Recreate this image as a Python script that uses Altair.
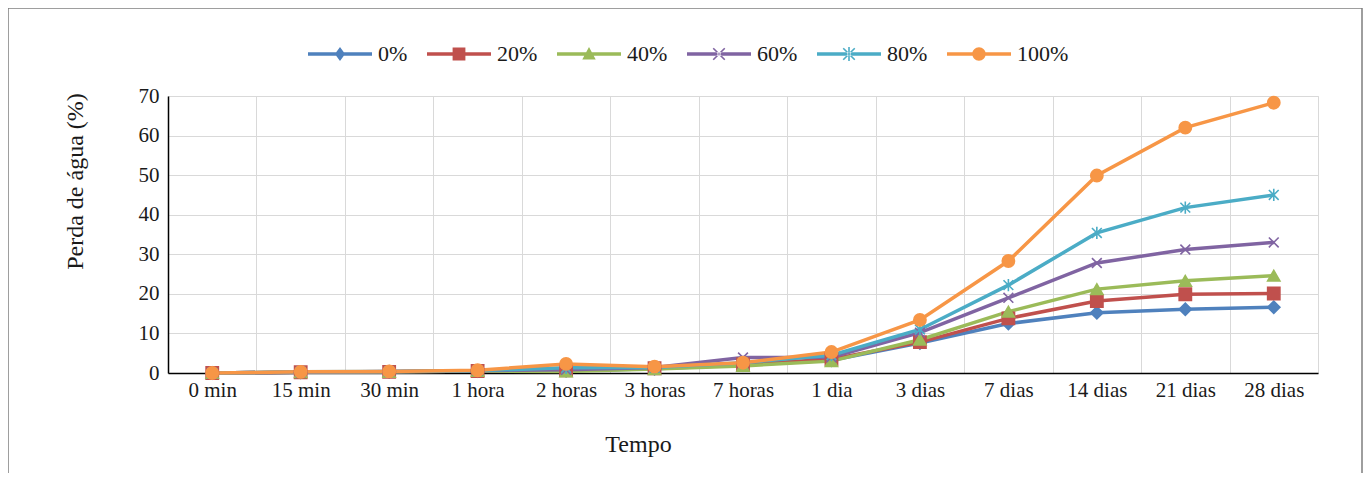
import math
import altair as alt
import pandas as pd

categorias = ["0 min", "15 min", "30 min", "1 hora", "2 horas", "3 horas", "7 horas",
              "1 dia", "3 dias", "7 dias", "14 dias", "21 dias", "28 dias"]
series = ["0%", "20%", "40%", "60%", "80%", "100%"]

v0 = [0, 0.2, 0.3, 0.5, 0.6, 1.1, 2.0, 3.2, 7.6, 12.5, 15.2, 16.1, 16.6]
v20 = [0, 0.2, 0.3, 0.5, 0.7, 1.2, 2.2, 3.5, 7.8, 13.8, 18.2, 19.9, 20.1]
v40 = [0, 0.2, 0.3, 0.5, 0.4, 1.0, 1.8, 3.0, 8.4, 15.5, 21.2, 23.3, 24.6]
v60 = [0, 0.2, 0.4, 0.6, 0.8, 1.4, 3.9, 4.0, 10.2, 19.0, 27.8, 31.2, 33.0]
v80 = [0, 0.3, 0.4, 0.6, 1.3, 1.4, 2.6, 4.5, 11.0, 22.2, 35.4, 41.8, 45.0]
v100 = [0, 0.3, 0.4, 0.7, 2.3, 1.6, 2.6, 5.3, 13.4, 28.3, 49.9, 62.0, 68.3]

cores = ["#4F81BD", "#C0504D", "#9BBB59", "#8064A2", "#4BACC6", "#F79646"]

FONT = "Times New Roman, Liberation Serif, DejaVu Serif, serif"
TXT = "#1a1a1a"

rows = []
for s, vals in zip(series, [v0, v20, v40, v60, v80, v100]):
    for c, v in zip(categorias, vals):
        rows.append({"Tempo": c, "Serie": s, "Perda": v})
df = pd.DataFrame(rows)

# marker shapes in the plot
X_PATH = "M-0.8,-0.8L0.8,0.8M-0.8,0.8L0.8,-0.8"
AST_PATH = "M-0.8,-0.8L0.8,0.8M-0.8,0.8L0.8,-0.8M0,-1L0,1"
marcadores = ["diamond", "square", "triangle-up", X_PATH, AST_PATH, "circle"]


def bar(x1, y1, x2, y2, t):
    # thin filled polygon along a segment (so it can be drawn with fill only)
    dx, dy = x2 - x1, y2 - y1
    n = math.hypot(dx, dy)
    px, py = -dy / n * t, dx / n * t
    pts = [(x1 + px, y1 + py), (x2 + px, y2 + py), (x2 - px, y2 - py), (x1 - px, y1 - py)]
    return "M" + "L".join(f"{a:.3f},{b:.3f}" for a, b in pts) + "Z"


# legend symbols: line segment + marker (unit box [-1,1] = 64 px)
LINE = "M-1,-0.055L1,-0.055L1,0.055L-1,0.055Z"
XM = bar(-0.18, -0.18, 0.18, 0.18, 0.025) + bar(-0.18, 0.18, 0.18, -0.18, 0.025)
leg_paths = [
    LINE + "M0,-0.22L0.16,0L0,0.22L-0.16,0Z",
    LINE + "M-0.2,-0.2L0.2,-0.2L0.2,0.2L-0.2,0.2Z",
    LINE + "M0,-0.22L0.21,0.17L-0.21,0.17Z",
    LINE + XM,
    LINE + XM + bar(0, -0.22, 0, 0.22, 0.025),
    LINE + "M-0.21,0A0.21,0.21 0 1,1 0.21,0A0.21,0.21 0 1,1 -0.21,0Z",
]

W, H = 1150, 277

x_enc = alt.X(
    "Tempo:N", sort=categorias,
    scale=alt.Scale(type="band", paddingInner=0, paddingOuter=0),
    axis=alt.Axis(
        title="Tempo", labelAngle=0, labelFont=FONT, labelFontSize=21, labelColor=TXT,
        labelPadding=6, ticks=False, domainColor="#000000", domainWidth=1.5,
        grid=True, gridColor="#d9d9d9", gridWidth=1, tickBand="extent",
        titleFont=FONT, titleFontSize=24, titleFontWeight="normal", titleColor=TXT,
        titleX=470, titleY=71, titleBaseline="middle", titleAlign="center",
    ),
)
y_enc = alt.Y(
    "Perda:Q",
    scale=alt.Scale(domain=[0, 70], nice=False),
    axis=alt.Axis(
        title="Perda de água (%)", values=[0, 10, 20, 30, 40, 50, 60, 70],
        labelFont=FONT, labelFontSize=21, labelColor=TXT, labelPadding=9,
        ticks=False, domainColor="#000000", domainWidth=1.5,
        grid=True, gridColor="#d9d9d9", gridWidth=1,
        titleFont=FONT, titleFontSize=24, titleFontWeight="normal", titleColor=TXT,
        titleX=-93, titleY=85, titleBaseline="middle", titleAlign="center",
    ),
)

base = alt.Chart(df)

linhas = base.mark_line(strokeWidth=3.5).encode(
    x=x_enc, y=y_enc,
    color=alt.Color("Serie:N", scale=alt.Scale(domain=series, range=cores), legend=None),
    detail="Serie:N",
)

pontos = base.mark_point(filled=True, size=150, strokeWidth=1.6, opacity=1).encode(
    x=x_enc, y=y_enc,
    color=alt.Color("Serie:N", scale=alt.Scale(domain=series, range=cores), legend=None),
    stroke=alt.Stroke("Serie:N", scale=alt.Scale(domain=series, range=cores), legend=None),
    shape=alt.Shape("Serie:N", scale=alt.Scale(domain=series, range=marcadores), legend=None),
)

leg = dict(
    title=None, orient="none", direction="horizontal", legendX=140, legendY=-74,
    symbolSize=4096, symbolStrokeWidth=0, symbolOpacity=1,
    labelFont=FONT, labelFontSize=22, labelColor=TXT,
    labelOffset=6, columnPadding=19, padding=0,
)
legenda = base.transform_filter("false").mark_point(filled=True, size=4096, opacity=1).encode(
    color=alt.Color("Serie:N", scale=alt.Scale(domain=series, range=cores), legend=alt.Legend(**leg)),
    shape=alt.Shape("Serie:N", scale=alt.Scale(domain=series, range=leg_paths), legend=alt.Legend(**leg)),
)

moldura = alt.Chart(pd.DataFrame({"a": [0]})).mark_rect(
    fillOpacity=0, stroke="#7f7f7f", strokeWidth=1.5
).encode(
    x=alt.value(-160), x2=alt.value(W + 44),
    y=alt.value(-88), y2=alt.value(H + 140),
)

chart = alt.layer(moldura, linhas, pontos, legenda).resolve_scale(
    color="independent", shape="independent", stroke="independent"
).properties(
    width=W, height=H,
    autosize=alt.AutoSizeParams(type="none"),
    padding={"left": 160, "top": 88, "right": 46, "bottom": 100},
).configure_view(stroke=None).configure(background="white")

chart.save("out.html", embed_options={"renderer": "svg", "actions": False})
